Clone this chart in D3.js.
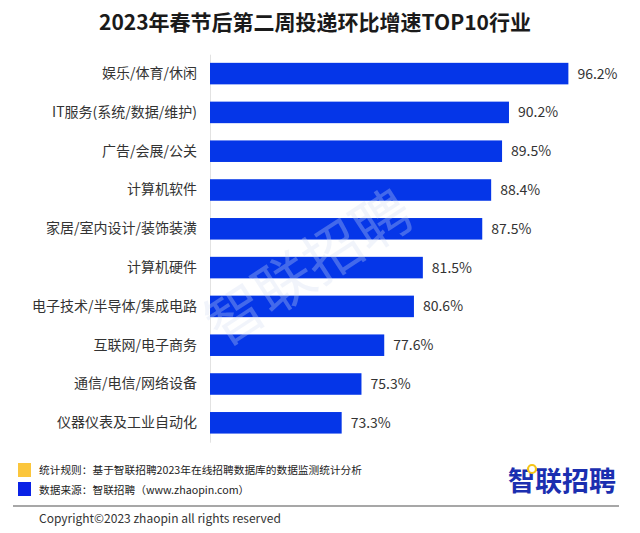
<!DOCTYPE html>
<html><head><meta charset="utf-8">
<script src="https://cdn.jsdelivr.net/npm/d3@7"></script>
<style>
html,body{margin:0;padding:0;background:#fff;}
svg{display:block;font-family:"Noto Sans CJK SC","Noto Sans",sans-serif;}
</style></head>
<body><svg id="chart" width="640" height="533"></svg>
<script>
const title = "2023年春节后第二周投递环比增速TOP10行业";
const categories = ["娱乐/体育/休闲","IT服务(系统/数据/维护)","广告/会展/公关","计算机软件","家居/室内设计/装饰装潢","计算机硬件","电子技术/半导体/集成电路","互联网/电子商务","通信/电信/网络设备","仪器仪表及工业自动化"];
const values = [96.2, 90.2, 89.5, 88.4, 87.5, 81.5, 80.6, 77.6, 75.3, 73.3];
const legendItems = ["统计规则：基于智联招聘2023年在线招聘数据库的数据监测统计分析","数据来源：智联招聘（www.zhaopin.com）"];
const legendColors = ["#fbc63c","#0a22e6"];
const logoText = "智联招聘";
const watermark = "智联招聘";
const copyright = "Copyright©2023 zhaopin all rights reserved";

const svg = d3.select("#chart");
const barColor = "#0536e8";

const x = d3.scaleLinear().domain([60, 100]).range([210, 606]);
const y = d3.scaleBand().domain(categories).range([54.2, 442.2]).paddingInner(0.445).paddingOuter(0.2225);

// title
svg.append("text").attr("x", 315).attr("y", 30).attr("text-anchor","middle")
  .attr("font-size", 21).attr("font-weight", "bold").attr("fill", "#1a1a1a").text(title);

// axis
const ax = svg.append("g").attr("transform", `translate(${x.range()[0]},0)`)
  .call(d3.axisLeft(y).tickSize(0).tickPadding(13));
ax.select(".domain").attr("stroke", "#e2e2e2").attr("stroke-width", 1);
ax.selectAll("text").attr("font-size", 14).attr("fill", "#333")
  .attr("font-family", '"Noto Sans CJK SC","Noto Sans",sans-serif');

// bars
svg.append("g").selectAll("rect").data(values).join("rect")
  .attr("x", x(60)).attr("y", (d,i) => y(categories[i]))
  .attr("width", d => x(d) - x(60)).attr("height", y.bandwidth())
  .attr("fill", barColor);

// value labels
svg.append("g").selectAll("text").data(values).join("text")
  .attr("x", d => x(d) + 9).attr("y", (d,i) => y(categories[i]) + y.bandwidth()/2)
  .attr("dy", "0.35em").attr("font-size", 14).attr("fill", "#333")
  .text(d => d.toFixed(1) + "%");

// watermark
svg.append("text").attr("transform", "translate(320,285) rotate(-33)")
  .attr("text-anchor","middle").attr("font-size", 58).attr("font-weight","normal")
  .attr("fill", "#d3def2").attr("opacity", 0.3).text(watermark);

// footer legend
const lg = svg.append("g");
legendItems.forEach((t, i) => {
  lg.append("rect").attr("x", 18).attr("y", 463 + i*19).attr("width", 13).attr("height", 14).attr("fill", legendColors[i]);
  lg.append("text").attr("x", 39).attr("y", 470 + i*20).attr("dy","0.35em")
    .attr("font-size", 10.7).attr("fill", "#222").text(t);
});

// logo
svg.append("text").attr("x", 616).attr("y", 491).attr("text-anchor","end")
  .attr("font-size", 27).attr("font-weight","bold").attr("fill", "#1b2fb0").text(logoText);
svg.append("circle").attr("cx", 532).attr("cy", 469).attr("r", 4)
  .attr("fill", "#fff").attr("stroke", "#f5c518").attr("stroke-width", 2.2);

// divider
svg.append("line").attr("x1", 13).attr("x2", 619).attr("y1", 506).attr("y2", 506)
  .attr("stroke", "#8a8a8a").attr("stroke-width", 1.5);

svg.append("text").attr("x", 39).attr("y", 519).attr("dy","0.35em")
  .attr("font-size", 12).attr("fill", "#333").text(copyright);
</script>
</body></html>
